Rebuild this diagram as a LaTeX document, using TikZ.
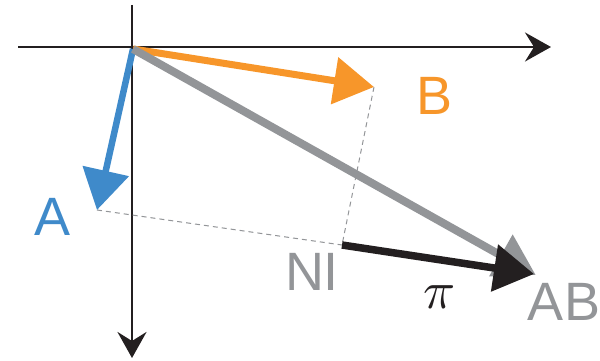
\documentclass[tikz,border=0pt]{standalone}
\usepackage{fontspec}
\setmainfont{Liberation Sans}
\usetikzlibrary{arrows.meta}
\definecolor{vorange}{HTML}{F7962A}
\definecolor{vblue}{HTML}{3F8ACA}
\definecolor{vgray}{HTML}{939598}
\definecolor{vblack}{HTML}{231F20}
\tikzset{
  axis/.style={vblack, line width=2.6pt, -{Stealth[length=26pt,width=29pt,inset=9pt]}},
  vec/.style={line width=#1, -{Triangle[length=40pt,width=46pt]}},
  proj/.style={vgray, line width=1pt, dash pattern=on 5pt off 4pt},
  lbl/.style={inner sep=0pt, font=\fontsize{54}{54}\selectfont}
}
\begin{document}
\begin{tikzpicture}[x=1pt,y=-1pt]
\useasboundingbox (0,0) rectangle (600,361);
\coordinate (O) at (133,49);
\coordinate (xl) at (18,47);
\coordinate (xr) at (551,47);
\coordinate (yt) at (132,5);
\coordinate (yb) at (132,358);
\coordinate (Bt) at (374,87);
\coordinate (At) at (97,210);
\coordinate (ABt) at (534,274);
\coordinate (NIp) at (342,245);
% axes
\draw[axis] (xl) -- (xr);
\draw[axis] (yt) -- (yb);
% projections
\draw[proj] (Bt) -- (NIp);
\draw[proj] (At) -- (NIp);
% vectors
\draw[vec=7pt, vorange] (O) -- (Bt);
\draw[vec=6.5pt, vblue] (O) -- (At);
\draw[vec=8pt, vgray, shorten >=-2pt] (O) -- (ABt);
\draw[vec=7.5pt, vblack] (NIp) -- (ABt);
% labels
\node[lbl, text=vorange] (Bl) at (435,96) {B};
\node[lbl, text=vblue] (Al) at (53,217) {A};
\node[lbl, text=vgray] (NIl) at (312,272) {NI};
\node[lbl, text=vgray] (ABl) at (564,302) {AB};
\node[inner sep=0pt, text=vblack, scale=5.3] (pil) at (440,297) {$\pi$};
\end{tikzpicture}
\end{document}
